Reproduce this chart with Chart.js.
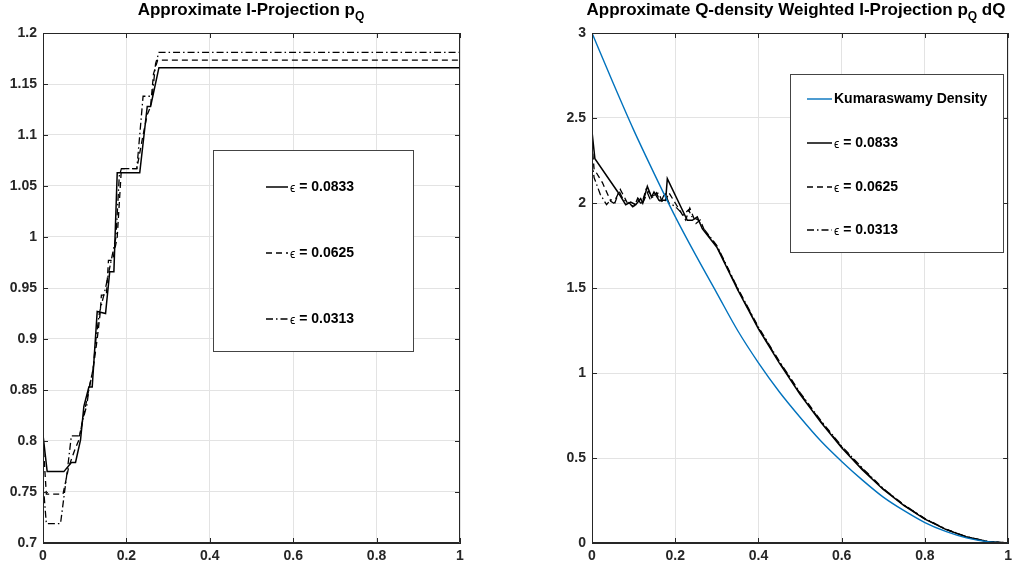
<!DOCTYPE html>
<html>
<head>
<meta charset="utf-8">
<script src="https://cdn.jsdelivr.net/npm/chart.js@4.4.0/dist/chart.umd.min.js"></script>
<style>
  html, body { margin: 0; padding: 0; background: #fff; }
  body { width: 1017px; height: 571px; position: relative; overflow: hidden;
         font-family: 'Liberation Sans', Arial, sans-serif; }
  .panel { position: absolute; top: 0; height: 571px; }
  .title { position: absolute; top: 0px; font-weight: bold; font-size: 17px; color: #000;
           white-space: nowrap; transform: translateX(-50%); }
  .title sub { font-size: 12px; vertical-align: -5px; line-height: 0; }
</style>
</head>
<body>
<div class="panel" style="left:0;width:480px"><canvas id="left"></canvas></div>
<div class="panel" style="left:550px;width:467px"><canvas id="right"></canvas></div>
<div class="title" style="left:251px">Approximate I-Projection p<sub>Q</sub></div>
<div class="title" style="left:796px">Approximate Q-density Weighted I-Projection p<sub>Q</sub> dQ</div>
<script>
// ── Values ─────────────────────────────────────────────────────────────────
// Left panel: approximate I-projection, one step curve per epsilon.
const EPS_LABELS = ['ϵ = 0.0833', 'ϵ = 0.0625', 'ϵ = 0.0313'];

const projX1 = [0, 0.01, 0.05, 0.068, 0.078, 0.09, 0.098, 0.11, 0.118, 0.13, 0.15, 0.16, 0.17, 0.178, 0.232, 0.25, 0.258, 0.278, 1];
const projY1 = [0.806, 0.770, 0.770, 0.779, 0.779, 0.801, 0.834, 0.853, 0.853, 0.927, 0.925, 0.966, 0.966, 1.063, 1.063, 1.128, 1.128, 1.166, 1.166];

const projX2 = [0, 0.008, 0.048, 0.062, 0.075, 0.085, 0.1, 0.112, 0.12, 0.13, 0.137, 0.14, 0.152, 0.157, 0.167, 0.178, 0.188, 0.225, 0.24, 0.25, 0.258, 0.265, 0.275, 1];
const projY2 = [0.80, 0.748, 0.748, 0.775, 0.79, 0.80, 0.83, 0.855, 0.87, 0.90, 0.925, 0.943, 0.943, 0.977, 0.977, 1.0, 1.067, 1.067, 1.10, 1.12, 1.128, 1.16, 1.1735, 1.1735];

const projX3 = [0, 0.008, 0.042, 0.058, 0.068, 0.088, 0.095, 0.105, 0.11, 0.12, 0.127, 0.135, 0.15, 0.16, 0.175, 0.183, 0.188, 0.225, 0.232, 0.24, 0.262, 0.27, 0.278, 1];
const projY3 = [0.76, 0.719, 0.719, 0.77, 0.805, 0.805, 0.82, 0.835, 0.85, 0.87, 0.90, 0.925, 0.95, 0.97, 1.0, 1.06, 1.067, 1.067, 1.10, 1.138, 1.138, 1.17, 1.181, 1.181];

// Right panel: Kumaraswamy density and the weighted projections.
const densX = [0, 0.05, 0.1, 0.15, 0.2, 0.25, 0.3, 0.35, 0.4, 0.45, 0.5, 0.55, 0.6, 0.65, 0.7, 0.75, 0.8, 0.85, 0.9, 0.95, 1];
const densY = [3.0, 2.71, 2.43, 2.17, 1.92, 1.69, 1.47, 1.25, 1.06, 0.89, 0.74, 0.60, 0.48, 0.37, 0.27, 0.19, 0.12, 0.068, 0.03, 0.008, 0];

const wX1 = [0, 0.007, 0.038, 0.062, 0.081, 0.093, 0.105, 0.117, 0.122, 0.133, 0.143, 0.149, 0.161, 0.177, 0.181, 0.229, 0.241, 0.253, 0.265, 0.3, 0.35, 0.4, 0.45, 0.5, 0.55, 0.6, 0.65, 0.7, 0.75, 0.8, 0.85, 0.9, 0.95, 1];
const wY1 = [2.42, 2.26, 2.15, 2.065, 1.99, 2.006, 1.99, 2.026, 2.0, 2.098, 2.035, 2.065, 2.016, 2.016, 2.143, 1.898, 1.898, 1.918, 1.849, 1.74, 1.49, 1.26, 1.06, 0.875, 0.71, 0.56, 0.43, 0.315, 0.22, 0.14, 0.08, 0.035, 0.009, 0];

const wX2 = [0, 0.005, 0.025, 0.045, 0.052, 0.068, 0.085, 0.1, 0.11, 0.12, 0.135, 0.145, 0.16, 0.17, 0.178, 0.185, 0.2, 0.225, 0.235, 0.25, 0.26, 0.27, 0.3, 0.35, 0.4, 0.45, 0.5, 0.55, 0.6, 0.65, 0.7, 0.75, 0.8, 0.85, 0.9, 0.95, 1];
const wY2 = [2.35, 2.2, 2.12, 2.01, 2.0, 2.08, 2.0, 1.98, 2.02, 1.99, 2.07, 2.04, 2.06, 2.0, 2.02, 2.06, 2.0, 1.9, 1.97, 1.88, 1.9, 1.84, 1.745, 1.495, 1.265, 1.065, 0.88, 0.715, 0.565, 0.435, 0.318, 0.222, 0.142, 0.081, 0.036, 0.009, 0];

const wX3 = [0, 0.005, 0.02, 0.035, 0.045, 0.055, 0.065, 0.075, 0.09, 0.1, 0.11, 0.12, 0.13, 0.14, 0.155, 0.165, 0.175, 0.185, 0.2, 0.22, 0.232, 0.24, 0.255, 0.265, 0.3, 0.35, 0.4, 0.45, 0.5, 0.55, 0.6, 0.65, 0.7, 0.75, 0.8, 0.85, 0.9, 0.95, 1];
const wY3 = [2.25, 2.15, 2.05, 1.99, 2.02, 2.0, 2.07, 2.02, 2.0, 1.97, 2.03, 2.0, 2.08, 2.02, 2.06, 2.0, 2.06, 2.0, 1.98, 1.93, 1.96, 1.92, 1.9, 1.86, 1.75, 1.50, 1.27, 1.07, 0.885, 0.72, 0.57, 0.44, 0.32, 0.224, 0.144, 0.082, 0.037, 0.01, 0];

const X_TICKS = [0, 0.2, 0.4, 0.6, 0.8, 1];

// ── Helpers ────────────────────────────────────────────────────────────────
const pts = (xs, ys) => xs.map((x, i) => ({ x, y: ys[i] }));
const AXIS = '#262626';
const FONT = "'Liberation Sans', Arial, sans-serif";
const SOLID = [], DASH = [6, 4], DASHDOT = [7, 3, 1.5, 3];

const series = (label, data, color, dash, width, smooth) => ({
  label, data, borderColor: color, backgroundColor: color, borderDash: dash,
  borderWidth: width, pointRadius: 0, fill: false,
  tension: smooth ? 0.4 : 0, cubicInterpolationMode: smooth ? 'monotone' : 'default',
});

// MATLAB-like box: dark frame on all four sides plus inward tick marks,
// and a legend drawn inside the axes.
const boxPlugin = {
  id: 'matlabBox',
  afterDraw(chart, args, opts) {
    const { ctx, chartArea: a, scales: { x, y } } = chart;
    ctx.save();
    ctx.strokeStyle = AXIS;
    ctx.lineWidth = 1;
    ctx.beginPath();
    ctx.rect(Math.round(a.left) + 0.5, Math.round(a.top) + 0.5,
             Math.round(a.right - a.left) - 1, Math.round(a.bottom - a.top) - 1);
    ctx.stroke();
    const L = 5;
    ctx.beginPath();
    x.ticks.forEach(t => {
      const p = Math.round(x.getPixelForValue(t.value)) + 0.5;
      ctx.moveTo(p, a.bottom); ctx.lineTo(p, a.bottom - L);
      ctx.moveTo(p, a.top); ctx.lineTo(p, a.top + L);
    });
    y.ticks.forEach(t => {
      const p = Math.round(y.getPixelForValue(t.value)) + 0.5;
      ctx.moveTo(a.left, p); ctx.lineTo(a.left + L, p);
      ctx.moveTo(a.right, p); ctx.lineTo(a.right - L, p);
    });
    ctx.stroke();

    // legend
    const lg = opts.legend;
    ctx.fillStyle = '#fff';
    ctx.fillRect(lg.box[0], lg.box[1], lg.box[2] - lg.box[0], lg.box[3] - lg.box[1]);
    ctx.strokeStyle = '#444';
    ctx.strokeRect(lg.box[0] + 0.5, lg.box[1] + 0.5, lg.box[2] - lg.box[0], lg.box[3] - lg.box[1]);
    chart.data.datasets.forEach((ds, i) => {
      const yy = lg.rows[i];
      ctx.beginPath();
      ctx.setLineDash(ds.borderDash || []);
      ctx.strokeStyle = ds.borderColor;
      ctx.lineWidth = ds.borderWidth;
      ctx.moveTo(lg.lineX[0], yy); ctx.lineTo(lg.lineX[1], yy);
      ctx.stroke();
      ctx.setLineDash([]);
      ctx.fillStyle = '#000';
      ctx.textBaseline = 'middle';
      ctx.textAlign = 'left';
      let tx = lg.textX;
      if (ds.label.startsWith('ϵ')) {
        ctx.font = '12px ' + FONT;
        ctx.fillText('ϵ', tx, yy + 2);
        tx += ctx.measureText('ϵ').width;
        ctx.font = 'bold 14px ' + FONT;
        ctx.fillText(ds.label.slice(1), tx, yy);
      } else {
        ctx.font = 'bold 14px ' + FONT;
        ctx.fillText(ds.label, tx, yy);
      }
    });
    ctx.restore();
  },
};

const fmt = v => String(Number(v.toFixed(2)));

function options(cfg) {
  return {
    responsive: true,
    maintainAspectRatio: false,
    animation: false,
    layout: { padding: { top: 33, right: cfg.padRight, left: 0, bottom: 0 } },
    plugins: {
      legend: { display: false },
      tooltip: { enabled: false },
      matlabBox: { legend: cfg.legend },
    },
    scales: {
      x: {
        type: 'linear', min: 0, max: 1,
        afterBuildTicks: s => { s.ticks = X_TICKS.map(v => ({ value: v })); },
        afterFit: s => { s.height = 28; },
        grid: { color: '#e3e3e3', drawTicks: false },
        border: { color: AXIS },
        ticks: { color: AXIS, font: { family: FONT, size: 14, weight: 'bold' }, padding: 5,
                 maxRotation: 0, callback: fmt },
      },
      y: {
        type: 'linear', min: cfg.yMin, max: cfg.yMax,
        afterFit: s => { s.width = cfg.yWidth; },
        grid: { color: '#e3e3e3', drawTicks: false },
        border: { color: AXIS },
        ticks: { color: AXIS, font: { family: FONT, size: 14, weight: 'bold' }, padding: 6,
                 stepSize: cfg.yStep, callback: fmt },
      },
    },
  };
}

new Chart(document.getElementById('left'), {
  type: 'line',
  data: {
    datasets: [
      series(EPS_LABELS[0], pts(projX1, projY1), '#000', SOLID, 1.5),
      series(EPS_LABELS[1], pts(projX2, projY2), '#000', DASH, 1.3),
      series(EPS_LABELS[2], pts(projX3, projY3), '#000', DASHDOT, 1.3),
    ],
  },
  options: options({
    yMin: 0.7, yMax: 1.2, yStep: 0.05, yWidth: 43, padRight: 20,
    legend: { box: [213, 150, 413, 351], rows: [187, 253, 319], lineX: [266, 288], textX: 290 },
  }),
  plugins: [boxPlugin],
});

new Chart(document.getElementById('right'), {
  type: 'line',
  data: {
    datasets: [
      series('Kumaraswamy Density', pts(densX, densY), '#0072BD', SOLID, 1.4, true),
      series(EPS_LABELS[0], pts(wX1, wY1), '#000', SOLID, 1.5),
      series(EPS_LABELS[1], pts(wX2, wY2), '#000', DASH, 1.3),
      series(EPS_LABELS[2], pts(wX3, wY3), '#000', DASHDOT, 1.3),
    ],
  },
  options: options({
    yMin: 0, yMax: 3, yStep: 0.5, yWidth: 42, padRight: 7,
    legend: { box: [240, 74, 453, 252], rows: [99, 143, 187, 230], lineX: [257, 282], textX: 284 },
  }),
  plugins: [boxPlugin],
});
</script>
</body>
</html>
